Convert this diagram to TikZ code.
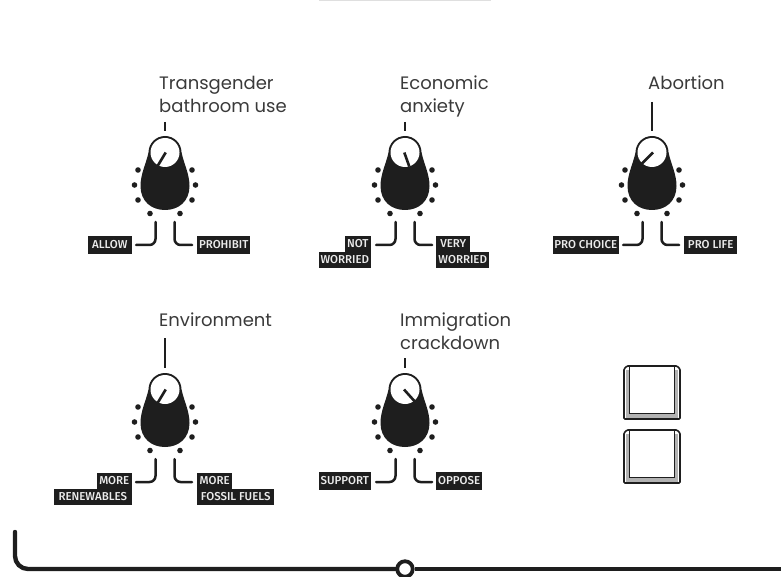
\documentclass[tikz,border=0pt]{standalone}
\usepackage{fontspec}
\setmainfont{Poppins}
\newfontfamily\tagfont[FakeStretch=1.0]{Fira Sans Medium}
\definecolor{ink}{HTML}{1E1E1E}
\definecolor{txt}{HTML}{3A3A3A}
\tikzset{
  title/.style={anchor=north west,align=left,inner sep=0pt,text=txt,font=\fontsize{18}{23}\selectfont},
  tagbox/.style={fill=ink,text=white!92!black,inner sep=0pt,minimum height=16.5pt,font=\tagfont\fontsize{11.5}{12}\selectfont},
  wire/.style={draw=ink,line width=2.5pt,line cap=round,rounded corners=6pt},
  tick/.style={draw=ink,line width=2.5pt},
  keycap/.style={draw=ink,line width=1.6pt,fill=white,rounded corners=1pt}
}
\newcommand{\knob}[4]{%
 \begin{scope}[shift={(#1,#2)}]
  \fill[ink] (0,16.5) circle[radius=16.5];
  \fill[ink] (-16.5,16.5) -- (16.5,16.5)
   .. controls (19,28) and (24.5,38) .. (24.5,50)
   .. controls (24.5,65) and (14,74) .. (0,74)
   .. controls (-14,74) and (-24.5,65) .. (-24.5,50)
   .. controls (-24.5,38) and (-19,28) .. (-16.5,16.5) -- cycle;
  \fill[white] (0,16.5) circle[radius=14.5];
  \draw[ink,line width=2.6pt] (#3,16.5) -- ++(#4);
  \foreach \px/\py in {-27/34,-30.5/49,-27/64,-15/77.5,15/77.5,27/64,30.5/49,27/34}
    \fill[ink] (\px,\py) circle[radius=2.8];
 \end{scope}}
\begin{document}
\begin{tikzpicture}[x=1pt,y=-1pt]
\useasboundingbox (0,0) rectangle (781,577);
\fill[gray!25] (319,0) rectangle (491,1);
\knob{165}{136}{0.7}{-8.4,14}
\knob{405}{136}{-0.7}{5,14}
\knob{652}{136}{1}{-12,12}
\knob{165}{373}{0.7}{-8.4,14}
\knob{405}{373}{-1}{13.5,15}
\node[title] (t1) at (159,76) {Transgender\\bathroom use};
\node[title] (t2) at (400,76) {Economic\\anxiety};
\node[title] (t3) at (648,76) {Abortion};
\node[title] (t4) at (159,313) {Environment};
\node[title] (t5) at (400,313) {Immigration\\crackdown};
\coordinate (a1) at (165,122); \coordinate (a1e) at (165,131);
\draw[tick] (a1) -- (a1e);
\coordinate (a2) at (405,122); \coordinate (a2e) at (405,131);
\draw[tick] (a2) -- (a2e);
\coordinate (a3) at (652,102); \coordinate (a3e) at (652,131);
\draw[tick] (a3) -- (a3e);
\coordinate (a4) at (165,338); \coordinate (a4e) at (165,368);
\draw[tick] (a4) -- (a4e);
\coordinate (a5) at (405,358); \coordinate (a5e) at (405,368);
\draw[tick] (a5) -- (a5e);
% tags row 1
\node[tagbox,anchor=east,minimum width=44pt,minimum height=18pt] (l1) at (132,245) {ALLOW};
\node[tagbox,anchor=west,minimum width=53pt,minimum height=18pt] (r1) at (197,245) {PROHIBIT};
\node[tagbox,anchor=east,minimum width=26pt] (l2a) at (371,244) {NOT};
\node[tagbox,anchor=east,minimum width=52pt] (l2b) at (371,260) {WORRIED};
\node[tagbox,anchor=west,minimum width=34pt] (r2a) at (436,244) {VERY};
\node[tagbox,anchor=west,minimum width=53pt] (r2b) at (436,260) {WORRIED};
\node[tagbox,anchor=east,minimum width=66pt,minimum height=18pt] (l3) at (619,245) {PRO CHOICE};
\node[tagbox,anchor=west,minimum width=53pt,minimum height=18pt] (r3) at (684,245) {PRO LIFE};
\node[tagbox,anchor=east,minimum width=35pt] (l4a) at (132,481) {MORE};
\node[tagbox,anchor=east,minimum width=78pt] (l4b) at (132,497) {RENEWABLES};
\node[tagbox,anchor=west,minimum width=35pt] (r4a) at (197,481) {MORE};
\node[tagbox,anchor=west,minimum width=77pt] (r4b) at (197,497) {FOSSIL FUELS};
\node[tagbox,anchor=east,minimum width=52pt,minimum height=18pt] (l5) at (371,481) {SUPPORT};
\node[tagbox,anchor=west,minimum width=46pt,minimum height=18pt] (r5) at (436,481) {OPPOSE};
\coordinate (c1l) at (155.5,222); \coordinate (c1r) at (174.5,222);
\draw[wire] (c1l) |- (136,245); \draw[wire] (c1r) |- (192,245);
\coordinate (c2l) at (395.5,222); \coordinate (c2r) at (414.5,222);
\draw[wire] (c2l) |- (376,245); \draw[wire] (c2r) |- (432,245);
\coordinate (c3l) at (642.5,222); \coordinate (c3r) at (661.5,222);
\draw[wire] (c3l) |- (623,245); \draw[wire] (c3r) |- (679,245);
\coordinate (c4l) at (155.5,459); \coordinate (c4r) at (174.5,459);
\draw[wire] (c4l) |- (136,482); \draw[wire] (c4r) |- (192,482);
\coordinate (c5l) at (395.5,459); \coordinate (c5r) at (414.5,459);
\draw[wire] (c5l) |- (376,482); \draw[wire] (c5r) |- (432,482);
% keys
\foreach \ky in {366,430}{
  \draw[keycap] (624,\ky+53) -- (624,\ky+3) -- (627,\ky) -- (677,\ky) -- (680,\ky+3) -- (680,\ky+53) -- cycle;
  \fill[gray!60] (626,\ky+48) rectangle (678,\ky+52);
  \fill[gray!60] (626,\ky+4) rectangle (630,\ky+48);
  \fill[gray!60] (674,\ky+4) rectangle (678,\ky+48);
  \draw[ink,line width=1pt] (629.5,\ky+1) -- (629.5,\ky+47.5) -- (674.5,\ky+47.5) -- (674.5,\ky+1);
}
% bottom bus
\coordinate (b0) at (15,532); \coordinate (b1) at (781,569);
\node[circle,draw=ink,fill=white,line width=3.8pt,minimum size=15.5pt,inner sep=0pt] (hub) at (405,569) {};
\draw[draw=ink,line width=4.4pt,line cap=round,rounded corners=13pt] (b0) |- (hub.west);
\draw[draw=ink,line width=4.4pt] (hub.east) -- (b1);
\end{tikzpicture}
\end{document}
